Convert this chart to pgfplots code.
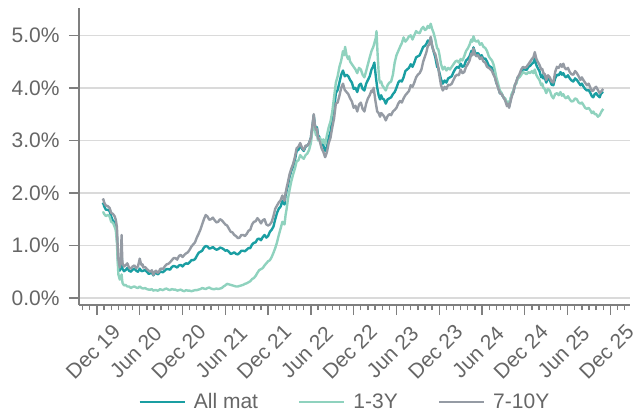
\documentclass[border=0pt]{standalone}
\usepackage{pgfplots}
\pgfplotsset{compat=1.18}
\usepackage{fontspec}
\setmainfont{Liberation Sans}
\definecolor{cAll}{HTML}{1A9EA2}
\definecolor{cShort}{HTML}{8FD2BE}
\definecolor{cLong}{HTML}{959BA4}
\definecolor{cText}{HTML}{666666}
\definecolor{cAxis}{HTML}{7F7F7F}
\definecolor{cGrid}{HTML}{DADADA}
\begin{document}
\begin{tikzpicture}
\useasboundingbox (0,0) rectangle (636bp,415bp);
\begin{axis}[
  at={(79bp,110bp)}, anchor=south west,
  scale only axis, width=551bp, height=297bp,
  xmin=-2.52, xmax=74.75, ymin=-0.133, ymax=5.52,
  axis lines*=left,
  axis line style={-, cAxis, line width=1.6bp},
  tick style={cAxis, line width=1.3bp},
  tick align=outside,
  major tick length=10bp, minor tick length=5bp,
  xtick={0,6,...,72},
  xticklabels={Dec 19,Jun 20,Dec 20,Jun 21,Dec 21,Jun 22,Dec 22,Jun 23,Dec 23,Jun 24,Dec 24,Jun 25,Dec 25},
  minor xtick={-2,-1,...,74},
  ytick={0,1,2,3,4,5},
  yticklabel={\pgfmathprintnumber[fixed,fixed zerofill,precision=1]{\tick}\%},
  /pgf/number format/assume math mode=true,
  ymajorgrids, grid style={cGrid, line width=1.3bp},
  ticklabel style={font=\fontsize{21bp}{24bp}\selectfont, text=cText},
  xticklabel style={xshift=-4bp, rotate=45, anchor=center},
  xticklabel shift=37bp,
  yticklabel style={anchor=east, xshift=-6bp},
  legend columns=3,
  legend style={at={(0.488,-0.3266)}, anchor=center, draw=none, fill=none,
    font=\fontsize{21bp}{24bp}\selectfont, text=cText,
    /tikz/every even column/.append style={column sep=32bp},
    nodes={inner xsep=8bp}},
  legend image code/.code={\draw[#1, line width=2.4bp] (0bp,0bp) -- (45bp,0bp);},
  every axis plot/.append style={line width=2.4bp, line join=round},
]
\addplot[cAll] table {
m v
0.8 1.78
0.9 1.80
1.0 1.75
1.25 1.68
1.5 1.68
1.75 1.66
2.0 1.55
2.25 1.46
2.5 1.45
2.65 1.38
2.8 1.20
2.9 0.85
3.0 0.60
3.1 0.58
3.2 0.52
3.35 0.62
3.45 0.85
3.55 0.58
3.6 0.55
3.8 0.51
4.0 0.53
4.25 0.57
4.5 0.52
4.75 0.50
5.0 0.54
5.25 0.56
5.5 0.52
5.75 0.50
6.0 0.56
6.25 0.51
6.5 0.52
6.75 0.53
7.0 0.50
7.25 0.46
7.5 0.47
7.7 0.49
7.9 0.43
8.1 0.47
8.3 0.48
8.5 0.45
8.7 0.47
8.85 0.51
9.0 0.50
9.25 0.49
9.5 0.52
9.75 0.55
10.0 0.55
10.25 0.54
10.5 0.59
10.75 0.61
11.0 0.60
11.25 0.58
11.5 0.62
11.75 0.63
12.0 0.60
12.25 0.64
12.5 0.66
12.75 0.65
13.0 0.68
13.25 0.72
13.5 0.72
13.75 0.74
14.0 0.80
14.25 0.86
14.5 0.88
14.75 0.90
15.0 0.96
15.25 0.99
15.5 0.98
15.75 0.94
16.0 0.95
16.25 0.97
16.5 0.94
16.75 0.92
17.0 0.93
17.25 0.96
17.5 0.95
17.75 0.93
18.0 0.90
18.25 0.91
18.5 0.88
18.75 0.84
19.0 0.85
19.25 0.87
19.5 0.84
19.75 0.83
20.0 0.86
20.25 0.90
20.5 0.90
20.75 0.89
21.0 0.92
21.25 0.95
21.5 0.95
21.75 1.02
22.0 1.05
22.25 1.06
22.5 1.12
22.75 1.13
23.0 1.10
23.25 1.16
23.5 1.20
23.75 1.15
24.0 1.18
24.25 1.26
24.5 1.30
24.75 1.36
25.0 1.50
25.25 1.62
25.5 1.70
25.75 1.74
26.0 1.85
26.15 1.80
26.3 1.78
26.45 1.95
26.6 2.05
26.8 2.16
27.0 2.30
27.25 2.42
27.5 2.50
27.75 2.62
28.0 2.80
28.25 2.82
28.5 2.92
28.75 2.84
29.0 2.80
29.25 2.88
29.5 2.90
29.75 2.95
30.0 3.05
30.2 3.25
30.4 3.48
30.55 3.30
30.7 3.22
30.85 3.25
31.0 3.10
31.25 3.05
31.5 2.95
31.75 2.90
32.0 2.80
32.25 2.88
32.5 3.05
32.75 3.16
33.0 3.40
33.25 3.58
33.5 3.90
33.75 3.96
34.0 4.10
34.25 4.25
34.5 4.33
34.75 4.22
35.0 4.25
35.25 4.22
35.5 4.15
35.75 4.10
36.0 3.98
36.25 4.00
36.5 3.92
36.75 4.05
37.0 4.08
37.25 3.98
37.5 3.95
37.75 4.08
38.0 4.15
38.25 4.22
38.5 4.35
38.7 4.40
38.9 4.48
39.1 4.22
39.3 4.00
39.5 3.86
39.7 3.78
39.85 3.86
40.0 3.80
40.25 3.78
40.5 3.70
40.75 3.78
41.0 3.80
41.25 3.82
41.5 3.88
41.75 3.92
42.0 4.00
42.25 4.10
42.5 4.14
42.75 4.12
43.0 4.20
43.25 4.32
43.5 4.35
43.75 4.38
44.0 4.45
44.25 4.40
44.5 4.48
44.75 4.58
45.0 4.60
45.25 4.62
45.5 4.70
45.75 4.78
46.0 4.80
46.2 4.84
46.4 4.90
46.6 4.88
46.8 4.95
47.0 4.80
47.2 4.70
47.45 4.58
47.7 4.40
47.85 4.38
48.0 4.30
48.25 4.16
48.5 4.08
48.75 4.14
49.0 4.10
49.25 4.18
49.5 4.20
49.75 4.22
50.0 4.30
50.25 4.36
50.5 4.40
50.75 4.38
51.0 4.46
51.25 4.40
51.5 4.42
51.75 4.52
52.0 4.55
52.25 4.60
52.5 4.70
52.65 4.68
52.8 4.77
53.0 4.68
53.2 4.65
53.45 4.66
53.7 4.60
53.95 4.62
54.2 4.55
54.45 4.56
54.7 4.50
54.95 4.42
55.2 4.40
55.4 4.38
55.6 4.30
55.8 4.22
56.0 4.10
56.25 4.02
56.5 3.90
56.75 3.88
57.0 3.82
57.25 3.78
57.5 3.68
57.65 3.72
57.8 3.65
58.0 3.78
58.2 3.88
58.4 3.92
58.6 4.05
58.8 4.10
59.0 4.20
59.25 4.22
59.5 4.30
59.75 4.36
60.0 4.35
60.25 4.34
60.5 4.40
60.75 4.42
61.0 4.46
61.2 4.48
61.4 4.55
61.6 4.44
61.8 4.38
62.05 4.32
62.3 4.20
62.45 4.24
62.6 4.18
62.8 4.20
63.0 4.10
63.25 4.18
63.5 4.15
63.75 4.06
64.0 4.05
64.25 4.18
64.5 4.25
64.75 4.24
65.0 4.30
65.2 4.25
65.4 4.28
65.6 4.22
65.8 4.20
66.05 4.24
66.3 4.18
66.55 4.14
66.8 4.12
67.05 4.18
67.3 4.15
67.55 4.10
67.8 4.05
68.0 4.08
68.2 4.03
68.45 3.98
68.7 3.95
68.95 3.96
69.2 3.90
69.4 3.84
69.6 3.82
69.8 3.88
70.0 3.90
70.25 3.85
70.5 3.82
70.75 3.92
71.0 3.90
};
\addlegendentry{All mat}
\addplot[cShort] table {
m v
0.8 1.62
0.9 1.63
1.0 1.60
1.25 1.56
1.5 1.58
1.75 1.56
2.0 1.45
2.25 1.43
2.5 1.35
2.65 1.28
2.8 1.05
2.9 0.72
3.0 0.45
3.1 0.40
3.2 0.35
3.35 0.38
3.45 0.45
3.55 0.32
3.6 0.28
3.8 0.24
4.0 0.25
4.25 0.22
4.5 0.22
4.75 0.19
5.0 0.21
5.25 0.22
5.5 0.20
5.75 0.19
6.0 0.22
6.25 0.19
6.5 0.18
6.75 0.19
7.0 0.17
7.25 0.16
7.5 0.16
7.7 0.17
7.9 0.14
8.1 0.15
8.3 0.15
8.5 0.14
8.7 0.15
8.85 0.17
9.0 0.16
9.25 0.15
9.5 0.17
9.75 0.18
10.0 0.16
10.25 0.15
10.5 0.17
10.75 0.16
11.0 0.16
11.25 0.14
11.5 0.15
11.75 0.16
12.0 0.14
12.25 0.13
12.5 0.15
12.75 0.14
13.0 0.14
13.25 0.13
13.5 0.14
13.75 0.15
14.0 0.15
14.25 0.16
14.5 0.17
14.75 0.19
15.0 0.18
15.25 0.17
15.5 0.19
15.75 0.20
16.0 0.18
16.25 0.17
16.5 0.17
16.75 0.18
17.0 0.17
17.25 0.18
17.5 0.19
17.75 0.22
18.0 0.24
18.25 0.27
18.5 0.26
18.75 0.25
19.0 0.24
19.25 0.23
19.5 0.22
19.75 0.22
20.0 0.23
20.25 0.24
20.5 0.25
20.75 0.27
21.0 0.28
21.25 0.30
21.5 0.32
21.75 0.36
22.0 0.38
22.25 0.42
22.5 0.48
22.75 0.53
23.0 0.55
23.25 0.57
23.5 0.62
23.75 0.66
24.0 0.70
24.25 0.72
24.5 0.78
24.75 0.86
25.0 0.95
25.25 1.06
25.5 1.20
25.75 1.32
26.0 1.45
26.15 1.42
26.3 1.40
26.45 1.58
26.6 1.70
26.8 1.90
27.0 2.05
27.25 2.22
27.5 2.35
27.75 2.46
28.0 2.60
28.25 2.62
28.5 2.72
28.75 2.68
29.0 2.65
29.25 2.72
29.5 2.75
29.75 2.82
30.0 2.95
30.2 3.18
30.4 3.40
30.55 3.22
30.7 3.10
30.85 3.12
31.0 3.00
31.25 3.05
31.5 2.95
31.75 3.02
32.0 2.92
32.25 3.10
32.5 3.25
32.75 3.36
33.0 3.55
33.25 3.82
33.5 4.10
33.75 4.22
34.0 4.40
34.25 4.52
34.5 4.70
34.65 4.62
34.8 4.78
35.0 4.62
35.2 4.55
35.35 4.60
35.5 4.50
35.75 4.45
36.0 4.40
36.25 4.35
36.5 4.28
36.75 4.38
37.0 4.35
37.25 4.25
37.5 4.20
37.75 4.32
38.0 4.45
38.25 4.58
38.5 4.70
38.75 4.78
39.0 4.90
39.1 4.95
39.2 5.08
39.35 4.65
39.5 4.30
39.6 4.15
39.7 4.10
39.85 4.12
40.0 4.05
40.25 4.00
40.5 3.95
40.75 4.05
41.0 4.10
41.25 4.12
41.5 4.25
41.75 4.48
42.0 4.62
42.25 4.70
42.5 4.78
42.75 4.85
43.0 4.96
43.25 4.88
43.5 4.92
43.75 4.98
44.0 5.00
44.25 4.92
44.5 5.00
44.75 5.08
45.0 5.05
45.25 5.04
45.5 5.12
45.75 5.16
46.0 5.10
46.2 5.12
46.4 5.18
46.6 5.14
46.8 5.22
47.0 5.12
47.2 5.05
47.45 4.92
47.7 4.75
47.85 4.74
48.0 4.65
48.25 4.45
48.5 4.35
48.75 4.40
49.0 4.33
49.25 4.38
49.5 4.35
49.75 4.40
50.0 4.45
50.25 4.50
50.5 4.52
50.75 4.48
51.0 4.55
51.25 4.52
51.5 4.60
51.75 4.70
52.0 4.75
52.25 4.82
52.5 4.92
52.65 4.88
52.8 4.98
53.0 4.90
53.2 4.88
53.45 4.90
53.7 4.82
53.95 4.85
54.2 4.78
54.45 4.76
54.7 4.70
54.95 4.60
55.2 4.55
55.4 4.52
55.6 4.45
55.8 4.34
56.0 4.20
56.25 4.08
56.5 3.95
56.75 3.90
57.0 3.82
57.25 3.80
57.5 3.70
57.65 3.74
57.8 3.68
58.0 3.80
58.2 3.90
58.4 3.95
58.6 4.05
58.8 4.08
59.0 4.18
59.25 4.20
59.5 4.25
59.75 4.30
60.0 4.28
60.25 4.26
60.5 4.30
60.75 4.28
61.0 4.32
61.2 4.28
61.4 4.35
61.6 4.25
61.8 4.20
62.05 4.15
62.3 4.05
62.45 4.08
62.6 4.00
62.8 3.98
63.0 3.90
63.25 3.98
63.5 3.95
63.75 3.85
64.0 3.80
64.25 3.88
64.5 3.90
64.75 3.86
65.0 3.92
65.2 3.85
65.4 3.88
65.6 3.82
65.8 3.80
66.05 3.84
66.3 3.78
66.55 3.74
66.8 3.75
67.05 3.80
67.3 3.78
67.55 3.72
67.8 3.70
68.0 3.72
68.2 3.68
68.45 3.62
68.7 3.60
68.95 3.62
69.2 3.57
69.4 3.52
69.6 3.55
69.8 3.50
70.0 3.50
70.25 3.45
70.5 3.48
70.75 3.55
71.0 3.60
};
\addlegendentry{1-3Y}
\addplot[cLong] table {
m v
0.8 1.86
0.9 1.88
1.0 1.82
1.25 1.76
1.5 1.75
1.75 1.72
2.0 1.62
2.25 1.60
2.5 1.55
2.65 1.48
2.8 1.35
2.9 1.00
3.0 0.75
3.1 0.66
3.2 0.58
3.35 0.70
3.45 1.20
3.55 0.72
3.6 0.65
3.8 0.60
4.0 0.62
4.25 0.66
4.5 0.58
4.75 0.56
5.0 0.60
5.25 0.62
5.5 0.57
5.75 0.60
6.0 0.75
6.15 0.66
6.3 0.62
6.4 0.64
6.5 0.58
6.75 0.59
7.0 0.55
7.25 0.52
7.5 0.50
7.7 0.53
7.9 0.44
8.1 0.50
8.3 0.52
8.5 0.48
8.7 0.50
8.85 0.55
9.0 0.56
9.25 0.55
9.5 0.60
9.75 0.64
10.0 0.65
10.25 0.68
10.5 0.72
10.75 0.76
11.0 0.76
11.25 0.73
11.5 0.80
11.75 0.82
12.0 0.78
12.25 0.82
12.5 0.85
12.75 0.87
13.0 0.92
13.25 0.98
13.5 1.02
13.75 1.06
14.0 1.15
14.25 1.22
14.5 1.30
14.75 1.40
15.0 1.50
15.25 1.58
15.5 1.55
15.75 1.49
16.0 1.50
16.25 1.53
16.5 1.48
16.75 1.44
17.0 1.45
17.25 1.50
17.5 1.48
17.75 1.44
18.0 1.40
18.25 1.38
18.5 1.32
18.75 1.26
19.0 1.25
19.25 1.20
19.5 1.18
19.75 1.14
20.0 1.15
20.25 1.20
20.5 1.20
20.75 1.18
21.0 1.22
21.25 1.28
21.5 1.30
21.75 1.40
22.0 1.45
22.25 1.46
22.5 1.52
22.75 1.48
23.0 1.42
23.25 1.48
23.5 1.50
23.75 1.40
24.0 1.38
24.25 1.40
24.5 1.45
24.75 1.56
25.0 1.70
25.25 1.76
25.5 1.82
25.75 1.86
26.0 1.95
26.15 1.90
26.3 1.85
26.45 2.00
26.6 2.10
26.8 2.22
27.0 2.35
27.25 2.46
27.5 2.55
27.75 2.68
28.0 2.85
28.25 2.88
28.5 2.95
28.75 2.86
29.0 2.82
29.25 2.90
29.5 2.90
29.75 2.95
30.0 3.05
30.2 3.28
30.4 3.50
30.55 3.30
30.7 3.20
30.85 3.22
31.0 3.05
31.25 2.98
31.5 2.85
31.75 2.78
32.0 2.68
32.25 2.78
32.5 2.95
32.75 3.05
33.0 3.25
33.25 3.42
33.5 3.70
33.75 3.72
34.0 3.85
34.25 4.00
34.5 4.08
34.75 3.96
35.0 3.92
35.25 3.88
35.5 3.80
35.75 3.74
36.0 3.62
36.25 3.66
36.5 3.55
36.75 3.68
37.0 3.72
37.25 3.60
37.5 3.55
37.75 3.70
38.0 3.80
38.25 3.86
38.5 3.95
38.65 3.92
38.8 4.00
39.05 3.75
39.3 3.55
39.5 3.52
39.7 3.45
39.85 3.52
40.0 3.50
40.25 3.46
40.5 3.38
40.75 3.46
41.0 3.50
41.25 3.48
41.5 3.55
41.75 3.58
42.0 3.62
42.25 3.70
42.5 3.75
42.75 3.72
43.0 3.80
43.25 3.86
43.5 3.90
43.75 3.94
44.0 4.05
44.25 4.02
44.5 4.10
44.75 4.20
45.0 4.25
45.25 4.28
45.5 4.35
45.75 4.50
46.0 4.60
46.2 4.68
46.4 4.80
46.6 4.82
46.8 4.97
47.0 4.80
47.2 4.70
47.45 4.64
47.7 4.50
47.85 4.40
48.0 4.25
48.25 4.05
48.5 3.95
48.75 4.02
49.0 3.98
49.25 4.06
49.5 4.05
49.75 4.08
50.0 4.15
50.25 4.22
50.5 4.25
50.75 4.24
51.0 4.35
51.25 4.28
51.5 4.30
51.75 4.40
52.0 4.45
52.25 4.52
52.5 4.65
52.65 4.62
52.8 4.75
53.0 4.64
53.2 4.60
53.45 4.62
53.7 4.55
53.95 4.58
54.2 4.50
54.45 4.48
54.7 4.40
54.95 4.38
55.2 4.35
55.4 4.32
55.6 4.25
55.8 4.20
56.0 4.10
56.25 4.00
56.5 3.90
56.75 3.88
57.0 3.82
57.25 3.76
57.5 3.65
57.65 3.70
57.8 3.62
58.0 3.74
58.2 3.85
58.4 3.92
58.6 4.05
58.8 4.12
59.0 4.20
59.25 4.26
59.5 4.35
59.75 4.40
60.0 4.38
60.25 4.40
60.5 4.45
60.75 4.50
61.0 4.55
61.2 4.58
61.4 4.68
61.6 4.56
61.8 4.50
62.05 4.44
62.3 4.35
62.45 4.36
62.6 4.28
62.8 4.26
63.0 4.15
63.25 4.24
63.5 4.20
63.75 4.12
64.0 4.10
64.25 4.30
64.5 4.40
64.75 4.38
65.0 4.45
65.2 4.40
65.4 4.46
65.6 4.38
65.8 4.35
66.05 4.38
66.3 4.30
66.55 4.26
66.8 4.25
67.05 4.32
67.3 4.28
67.55 4.22
67.8 4.15
68.0 4.20
68.2 4.15
68.45 4.10
68.7 4.05
68.95 4.08
69.2 4.00
69.4 3.94
69.6 3.95
69.8 4.00
70.0 4.02
70.25 3.96
70.5 3.90
70.75 3.94
71.0 3.98
};
\addlegendentry{7-10Y}
\end{axis}
\end{tikzpicture}
\end{document}
